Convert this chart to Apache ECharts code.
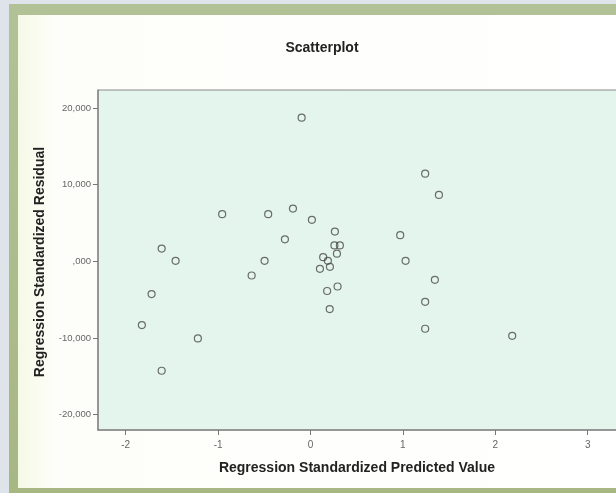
<!DOCTYPE html>
<html><head><meta charset="utf-8">
<script src="https://cdn.jsdelivr.net/npm/echarts@6/dist/echarts.min.js"></script>
<style>html,body{margin:0;padding:0;background:#fff;}#c{width:616px;height:493px;}</style>
</head><body><div id="c"></div>
<script>
// Data
const predicted = [-0.096,-0.956,-0.458,-0.190,0.015,0.264,-0.277,-1.611,-1.460,-0.497,-0.637,0.259,0.318,0.286,0.137,0.188,0.102,0.210,1.241,1.390,0.971,1.029,1.346,0.293,0.180,1.241,0.208,1.241,2.183,-1.720,-1.825,-1.219,-1.611];
const residual  = [18.74,6.15,6.15,6.88,5.41,3.88,2.87,1.67,0.07,0.07,-1.85,2.08,2.08,1.00,0.55,0.07,-0.98,-0.72,11.44,8.66,3.41,0.07,-2.41,-3.28,-3.87,-5.28,-6.22,-8.79,-9.71,-4.27,-8.31,-10.06,-14.27];
const xTickValues = [-2,-1,0,1,2,3];
const xTickLabels = ['-2','-1','0','1','2','3'];
const yTickValues = [-20,-10,0,10,20];
const yTickLabels = ['-20,000','-10,000',',000','10,000','20,000'];
const chartTitle = 'Scatterplot';
const xTitle = 'Regression Standardized Predicted Value';
const yTitle = 'Regression Standardized Residual';

const points = predicted.map((x,i)=>[x,residual[i]]);
const chart = echarts.init(document.getElementById('c'), null, {renderer:'canvas'});
chart.setOption({
  animation:false,
  backgroundColor:'#dfe4ea',
  graphic:[
    {type:'rect', z:-10, shape:{x:9,y:4,width:620,height:500}, style:{fill:new echarts.graphic.LinearGradient(0,0,0,1,[{offset:0,color:'#b3c296'},{offset:1,color:'#a7b782'}])}},
    {type:'rect', z:-9, shape:{x:18,y:15,width:610,height:473}, style:{fill:new echarts.graphic.LinearGradient(0,0,1,0,[{offset:0,color:'#f6f9e6'},{offset:0.06,color:'#fdfef9'},{offset:1,color:'#ffffff'}])}},
    {type:'text', x:322, y:48, style:{text:chartTitle, font:'bold 14px "Liberation Sans", Arial, sans-serif', fill:'#222', align:'center', verticalAlign:'middle'}},
    {type:'text', x:357, y:468, style:{text:xTitle, font:'bold 14px "Liberation Sans", Arial, sans-serif', fill:'#222', align:'center', verticalAlign:'middle'}},
    {type:'text', x:40, y:262, rotation:Math.PI/2, style:{text:yTitle, font:'bold 14px "Liberation Sans", Arial, sans-serif', fill:'#222', align:'center', verticalAlign:'middle'}}
  ],
  grid:{left:98, top:90, width:563.6, height:340, outerBoundsMode:'none', containLabel:false, show:true, backgroundColor:'#e3f5ec', borderColor:'#8a8a8a', borderWidth:1},
  xAxis:{type:'value', min:-2.3, max:3.8,
    axisLine:{show:true, onZero:false, lineStyle:{color:'#888', width:1.5}},
    axisTick:{show:true, length:5, customValues:xTickValues, lineStyle:{color:'#777'}},
    axisLabel:{customValues:xTickValues, formatter:v=>xTickLabels[xTickValues.indexOf(Math.round(v))], color:'#666', fontSize:10, margin:10, fontFamily:'"Liberation Sans", Arial'},
    splitLine:{show:false}},
  yAxis:{type:'value', min:-22, max:22.35,
    axisLine:{show:true, onZero:false, lineStyle:{color:'#888', width:1.5}},
    axisTick:{show:true, length:5, customValues:yTickValues, lineStyle:{color:'#777'}},
    axisLabel:{customValues:yTickValues, formatter:v=>yTickLabels[yTickValues.indexOf(Math.round(v))], color:'#666', fontSize:9.5, margin:7, fontFamily:'"Liberation Sans", Arial'},
    splitLine:{show:false}},
  series:[{type:'scatter', data:points, symbol:'circle', symbolSize:7,
    itemStyle:{color:'rgba(0,0,0,0)', borderColor:'#4a4a4a', borderWidth:1.2}}]
});
</script></body></html>
